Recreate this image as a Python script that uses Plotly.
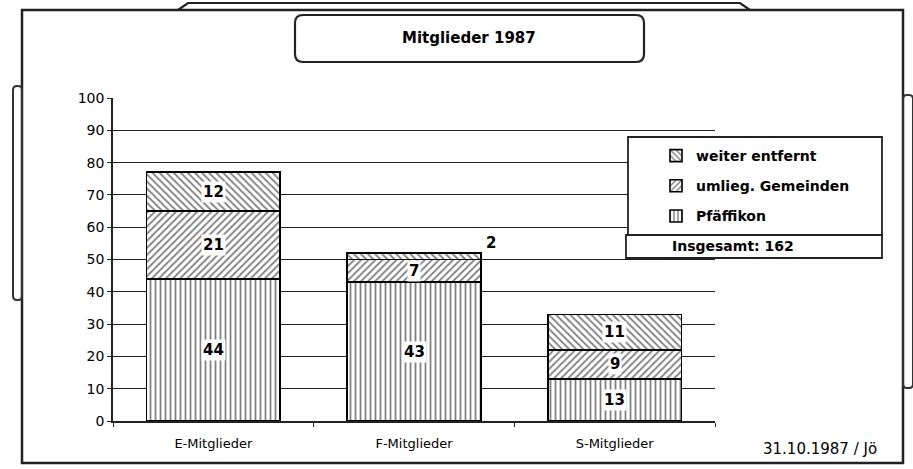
import plotly.graph_objects as go

categories = ["E-Mitglieder", "F-Mitglieder", "S-Mitglieder"]
pfaeffikon = [44, 43, 13]
umliegende = [21, 7, 9]
weiter_entfernt = [12, 2, 11]
series_names = ["Pfäffikon", "umlieg. Gemeinden", "weiter entfernt"]
y_ticks = [0, 10, 20, 30, 40, 50, 60, 70, 80, 90, 100]
title_text = "Mitglieder 1987"
total_text = "Insgesamt: 162"
date_text = "31.10.1987 / Jö"

W, H = 913, 469
L, R, T, B = 113, 198, 98, 48
PW, PH = W - L - R, H - T - B


def px(x):
    return (x - L) / PW


def py(y):
    return (H - B - y) / PH


series = [pfaeffikon, umliegende, weiter_entfernt]
shapes_pat = ["|", "/", "\\"]
ranks = [3, 2, 1]

fig = go.Figure()
for name, vals, shp, rk in zip(series_names, series, shapes_pat, ranks):
    fig.add_trace(go.Bar(
        x=categories, y=vals, name=f"<b>{name}</b>", legendgroup=name,
        legendrank=rk,
        marker=dict(color="white",
                    line=dict(color="black", width=1.6),
                    pattern=dict(shape=shp, fgcolor="black", bgcolor="white",
                                 size=5, solidity=0.35)),
        hoverinfo="skip",
    ))

FONT = "DejaVu Sans"
annotations = []
cum = [0] * len(categories)
for vals in series:
    for j, v in enumerate(vals):
        if v >= 4:
            annotations.append(dict(
                x=categories[j], y=cum[j] + v / 2, text=f"<b>{v}</b>",
                showarrow=False, bgcolor="white", borderpad=1,
                font=dict(family=FONT, size=15, color="black")))
        else:
            annotations.append(dict(
                x=categories[j], y=cum[j] + v, text=f"<b>{v}</b>",
                showarrow=False, xshift=77, yshift=10,
                font=dict(family=FONT, size=15, color="black")))
        cum[j] += v

annotations.append(dict(x=px(469), y=py(38), xref="paper", yref="paper",
                        yanchor="middle",
                        text=f"<b>{title_text}</b>", showarrow=False,
                        font=dict(family=FONT, size=15, color="black")))
annotations.append(dict(x=px(670), y=py(246), xref="paper", yref="paper",
                        xanchor="left", yanchor="middle",
                        text=f"<b>{total_text}</b>", showarrow=False,
                        font=dict(family=FONT, size=14, color="black")))
annotations.append(dict(x=px(879), y=py(449), xref="paper", yref="paper",
                        xanchor="right", yanchor="middle",
                        text=date_text, showarrow=False,
                        font=dict(family=FONT, size=15, color="black")))


def rrect(x0, y0, x1, y1, r):
    X0, X1 = px(x0), px(x1)
    Y0, Y1 = py(y0), py(y1)
    rx, ry = r / PW, r / PH
    return (f"M {X0+rx},{Y0} L {X1-rx},{Y0} Q {X1},{Y0} {X1},{Y0-ry} "
            f"L {X1},{Y1+ry} Q {X1},{Y1} {X1-rx},{Y1} L {X0+rx},{Y1} "
            f"Q {X0},{Y1} {X0},{Y1+ry} L {X0},{Y0-ry} Q {X0},{Y0} {X0+rx},{Y0} Z")


shapes = [
    # outer frame
    dict(type="rect", xref="paper", yref="paper", x0=px(22), x1=px(903),
         y0=py(463), y1=py(10), line=dict(color="#222", width=2.5), layer="below"),
    # folder tab on top
    dict(type="path", xref="paper", yref="paper",
         path=f"M {px(178)},{py(10)} L {px(188)},{py(3)} L {px(740)},{py(3)} L {px(750)},{py(10)}",
         line=dict(color="#222", width=2.2)),
    # side brackets
    dict(type="path", xref="paper", yref="paper", path=rrect(13, 86, 22, 300, 4),
         line=dict(color="#333", width=2)),
    dict(type="path", xref="paper", yref="paper", path=rrect(903, 95, 913, 388, 4),
         line=dict(color="#333", width=2)),
    # title box
    dict(type="path", xref="paper", yref="paper", path=rrect(295, 15, 644, 62, 8),
         line=dict(color="#222", width=2.2), fillcolor="white"),
    # legend box
    dict(type="rect", xref="paper", yref="paper", x0=px(628), x1=px(882),
         y0=py(235), y1=py(137), line=dict(color="#222", width=1.8),
         fillcolor="white", layer="above"),
    # total box
    dict(type="rect", xref="paper", yref="paper", x0=px(626), x1=px(882),
         y0=py(258), y1=py(235), line=dict(color="#222", width=1.8),
         fillcolor="white", layer="above"),
]

fig.update_layout(
    width=W, height=H,
    margin=dict(l=L, r=R, t=T, b=B, autoexpand=False),
    barmode="stack", bargap=0.335,
    paper_bgcolor="white", plot_bgcolor="white",
    font=dict(family=FONT, color="black", size=13),
    showlegend=True,
    legend=dict(x=px(656), y=py(140), xanchor="left", yanchor="top",
                traceorder="grouped", tracegroupgap=9,
                bgcolor="rgba(0,0,0,0)", borderwidth=0,
                font=dict(family=FONT, size=14, color="black"),
                itemclick=False, itemdoubleclick=False),
    annotations=annotations,
    shapes=shapes,
)

fig.update_yaxes(range=[0, 100], tickvals=y_ticks, showgrid=True,
                 gridcolor="#222", gridwidth=1.3, showline=True,
                 linecolor="#222", linewidth=1.6, ticks="outside", ticklen=4,
                 tickcolor="#222", zeroline=False,
                 tickfont=dict(family=FONT, size=14))
fig.update_xaxes(showline=True, linecolor="#222", linewidth=1.6,
                 ticks="outside", tickson="boundaries", ticklen=4,
                 tickcolor="#222", showgrid=False, ticklabelstandoff=10,
                 tickfont=dict(family=FONT, size=13))

fig.write_html("out.html", config={"displayModeBar": False},
               post_script="document.body.style.margin='0';document.body.style.overflow='hidden';")
